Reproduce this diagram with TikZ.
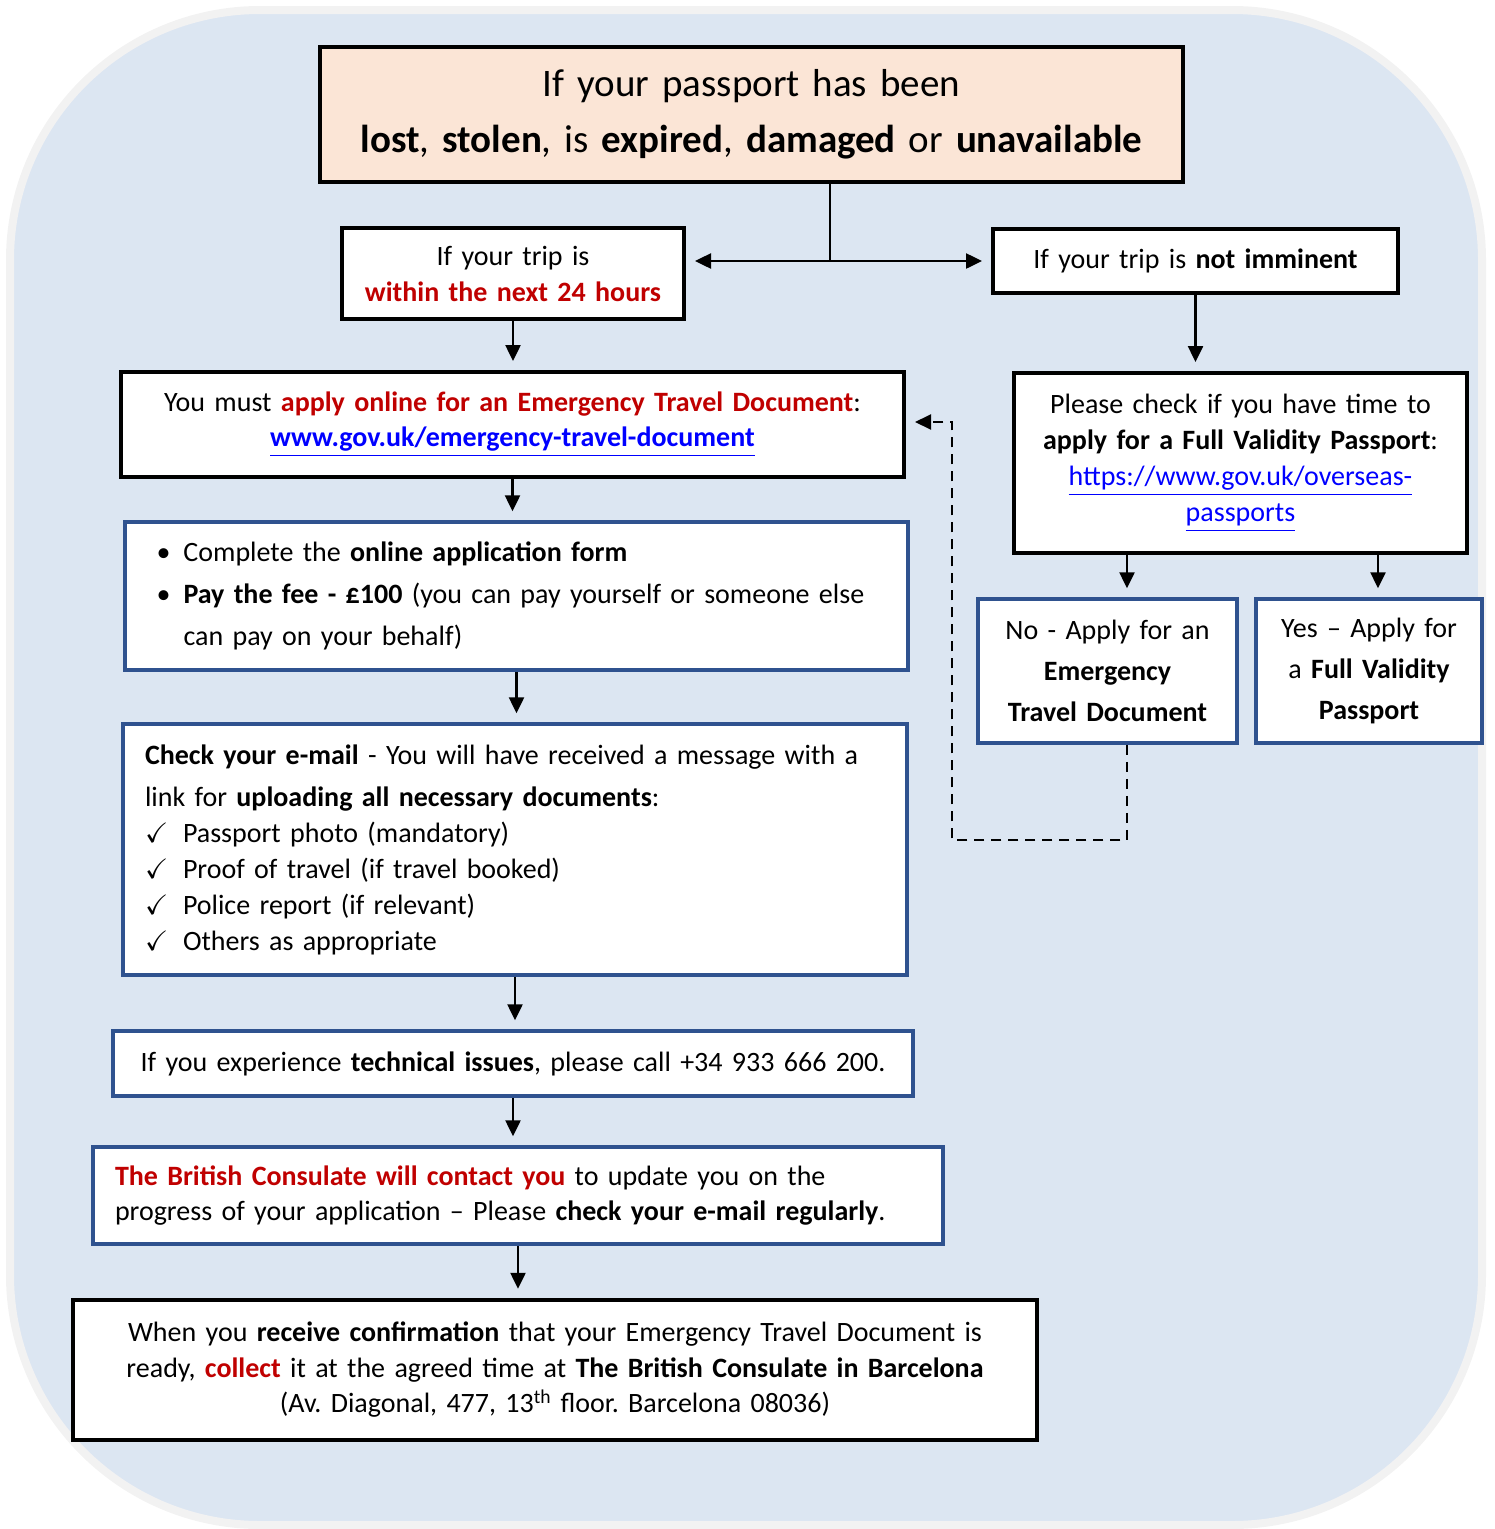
\documentclass[tikz,border=0pt]{standalone}
\usepackage{fontspec}
\setmainfont{Carlito}
\usepackage{amssymb}
\usetikzlibrary{arrows.meta, positioning}
\definecolor{bgblue}{HTML}{DCE6F2}
\definecolor{bgring}{HTML}{F2F2F2}
\definecolor{peach}{HTML}{FBE5D6}
\definecolor{boxblue}{HTML}{2F528F}
\definecolor{darkred}{HTML}{C00000}
\definecolor{linkblue}{HTML}{0000FF}
\newcommand{\hot}[1]{\textcolor{darkred}{\textbf{#1}}}
\newcommand{\weblink}[1]{\textcolor{linkblue}{\underline{#1}}}
\newcommand{\bodyfont}{\fontsize{28}{36}\selectfont}
\frenchspacing

\begin{document}
\begin{tikzpicture}[x=1pt,y=-1pt]
\tikzstyle{every node}+=[inner sep=0pt]
\tikzstyle{plainbox}=[draw=black, line width=4pt, fill=white, align=center, font=\bodyfont]
\tikzstyle{bluebox}=[draw=boxblue, line width=3.5pt, fill=white, align=center, font=\bodyfont]
\tikzstyle{flow}=[-{Triangle[length=16pt,width=15pt]}, line width=2.5pt, shorten >=9pt]
\useasboundingbox (0,0) rectangle (1495,1529);
\draw [bgring, line width=8pt, fill=bgblue, rounded corners=250pt] (10,10) rectangle (1482,1525);
% left column
\node [plainbox, fill=peach, minimum width=863pt, minimum height=135pt, text width=840pt, font=\fontsize{39}{56}\selectfont] (title) at (751.5,114.5)
  {If your passport has been\\ \textbf{lost}, \textbf{stolen}, is \textbf{expired}, \textbf{damaged} or \textbf{unavailable}};
\node [plainbox, minimum width=342pt, minimum height=91pt, text width=330pt] (trip24) at (513,273.5)
  {If your trip is\\ \hot{within the next 24 hours}};
\node [plainbox, minimum width=783pt, minimum height=105pt, text width=760pt, font=\fontsize{28}{35}\selectfont] (etd) at (512.5,424.5)
  {You must \hot{apply online for an Emergency Travel Document}:\\ \weblink{\textbf{www.gov.uk/emergency-travel-document}}};
\node [bluebox, minimum width=783pt, minimum height=148pt, text width=720pt, align=left, font=\fontsize{28}{42}\selectfont] (steps) at (516.5,596)
  {\makebox[27pt][l]{\textbullet}Complete the \textbf{online application form}\\
   \makebox[27pt][l]{\textbullet}\textbf{Pay the fee - £100} (you can pay yourself or someone else\\
   \hspace*{27pt}can pay on your behalf)};
\node [bluebox, minimum width=784pt, minimum height=251pt, text width=740pt, align=left, font=\fontsize{28}{42}\selectfont] (docs) at (515,849.5)
  {\textbf{Check your e-mail} - You will have received a message with a\\
   link for \textbf{uploading all necessary documents}:\\[-6pt]
   \makebox[38pt][l]{$\checkmark$}Passport photo (mandatory)\\[-6pt]
   \makebox[38pt][l]{$\checkmark$}Proof of travel (if travel booked)\\[-6pt]
   \makebox[38pt][l]{$\checkmark$}Police report (if relevant)\\[-6pt]
   \makebox[38pt][l]{$\checkmark$}Others as appropriate};
\node [bluebox, minimum width=800pt, minimum height=65pt, text width=780pt] (help) at (513,1063.5)
  {If you experience \textbf{technical issues}, please call +34 933 666 200.};
\node [bluebox, minimum width=850pt, minimum height=97pt, text width=806pt, align=left, font=\fontsize{28}{35}\selectfont] (contact) at (518,1195.5)
  {\hot{The British Consulate will contact you} to update you on the\\
   progress of your application -- Please \textbf{check your e-mail regularly}.};
\node [plainbox, line width=4.5pt, minimum width=964pt, minimum height=140pt, text width=930pt, font=\fontsize{28}{35.5}\selectfont] (collect) at (555,1370)
  {When you \textbf{receive confirmation} that your Emergency Travel Document is\\
   ready, \hot{collect} it at the agreed time at \textbf{The British Consulate in Barcelona}\\
   (Av. Diagonal, 477, 13\textsuperscript{th} floor. Barcelona 08036)};
% right column
\node [plainbox, minimum width=405pt, minimum height=64pt, text width=390pt] (notimm) at (1195.5,261)
  {If your trip is \textbf{not imminent}};
\node [plainbox, minimum width=453pt, minimum height=180pt, text width=440pt] (check) at (1240.5,463)
  {Please check if you have time to\\ \textbf{apply for a Full Validity Passport}:\\
   \weblink{https://www.gov.uk/overseas-}\\ \weblink{passports}};
\node [bluebox, minimum width=259pt, minimum height=144pt, text width=250pt, font=\fontsize{28}{41}\selectfont] (no) at (1107.5,671)
  {No - Apply for an\\ \textbf{Emergency}\\ \textbf{Travel Document}};
\node [bluebox, minimum width=226pt, minimum height=144pt, text width=215pt, font=\fontsize{28}{41}\selectfont] (yes) at (1369,671)
  {Yes -- Apply for\\ a \textbf{Full Validity}\\ \textbf{Passport}};
% connectors
\coordinate (split) at (830,261);
\coordinate (noarr) at (1127,0);
\coordinate (yesarr) at (1378,0);
\coordinate (loopA) at (1127,840);
\coordinate (loopB) at (952,422);
\draw [line width=2.5pt] (title.south -| split) -- (split);
\draw [flow] (split) -- (trip24.east |- split);
\draw [flow] (split) -- (notimm.west |- split);
\draw [flow] (trip24.south) -- (trip24.south |- etd.north);
\draw [flow] (etd.south) -- (etd.south |- steps.north);
\draw [flow] (steps.south) -- (steps.south |- docs.north);
\draw [flow] (docs.south) -- (docs.south |- help.north);
\draw [flow] (help.south) -- (help.south |- contact.north);
\draw [flow] (contact.south) -- (contact.south |- collect.north);
\draw [flow] (notimm.south) -- (notimm.south |- check.north);
\draw [flow] (check.south -| noarr) -- (no.north -| noarr);
\draw [flow] (check.south -| yesarr) -- (yes.north -| yesarr);
\draw [flow, line width=2pt, dash pattern=on 10pt off 7pt] (no.south -| noarr) -- (loopA) -| (loopB) -- (etd.east |- loopB);
\end{tikzpicture}
\end{document}
